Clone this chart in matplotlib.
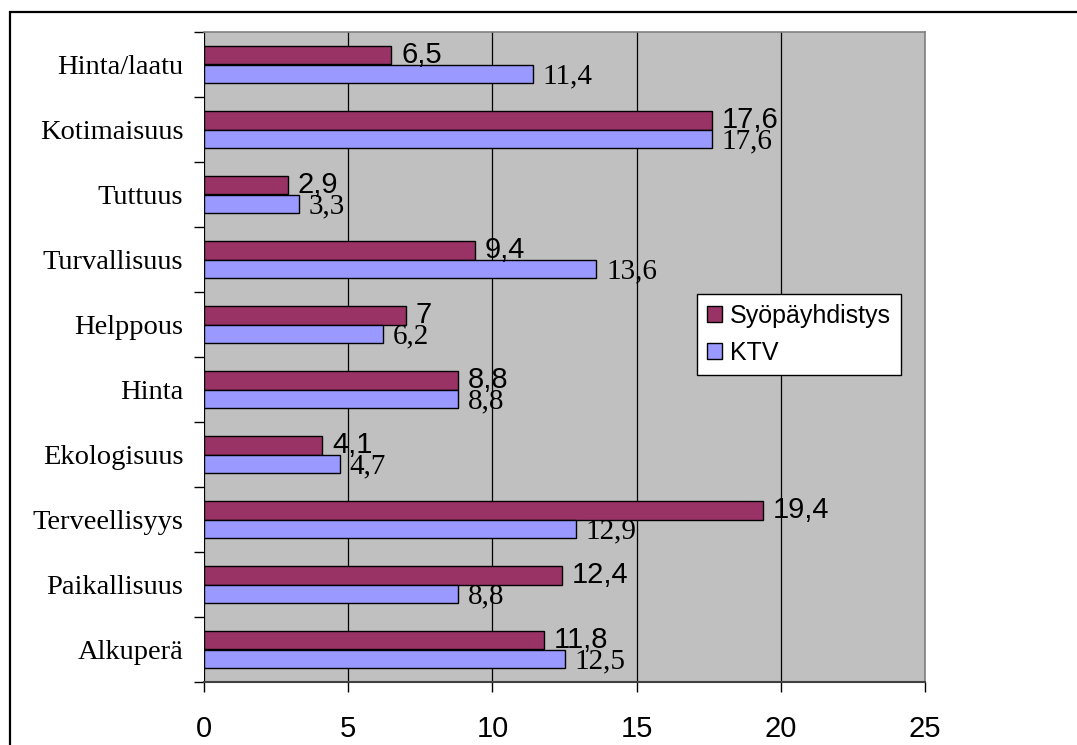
from matplotlib import pyplot as plt
from matplotlib.patches import Rectangle
import numpy as np

# survey answers, listed top to bottom
categories = ['Hinta/laatu', 'Kotimaisuus', 'Tuttuus', 'Turvallisuus', 'Helppous',
              'Hinta', 'Ekologisuus', 'Terveellisyys', 'Paikallisuus', 'Alkuperä']
syopa = [6.5, 17.6, 2.9, 9.4, 7, 8.8, 4.1, 19.4, 12.4, 11.8]
ktv = [11.4, 17.6, 3.3, 13.6, 6.2, 8.8, 4.7, 12.9, 8.8, 12.5]
series_names = ['Syöpäyhdistys', 'KTV']
xticks = [0, 5, 10, 15, 20, 25]

SERIF = 'Liberation Serif'
SANS = 'Liberation Sans'


def fmt(v):
    ''' Finnish style number: comma as decimal separator '''
    s = '{:g}'.format(v)
    return s.replace('.', ',')


fig = plt.figure(figsize=(10.77, 7.45), dpi=100)

# outer frame of the chart object
fig.patches.append(Rectangle((10 / 1077, -0.05), 1.1, 0.05 + (745 - 12) / 745,
                             transform=fig.transFigure, fill=False,
                             edgecolor='black', linewidth=1.6))

ax = fig.add_axes([204 / 1077, (745 - 682) / 745, (925 - 204) / 1077, (682 - 32) / 745])
ax.set_facecolor('#c0c0c0')

y = np.arange(len(categories))
h = 0.292
b1 = ax.barh(y - h / 2, syopa, height=h, color='#993366', edgecolor='black',
             linewidth=1.0, label=series_names[0], zorder=3)
b2 = ax.barh(y + h / 2, ktv, height=h, color='#9999ff', edgecolor='black',
             linewidth=1.0, label=series_names[1], zorder=3)

for rect, v in zip(b1, syopa):
    ax.annotate(fmt(v), (v, rect.get_y() + rect.get_height() / 2),
                xytext=(7, 0), textcoords='offset points', va='center', ha='left',
                fontsize=21, family=SANS, zorder=4)
for rect, v in zip(b2, ktv):
    ax.annotate(fmt(v), (v, rect.get_y() + rect.get_height() / 2),
                xytext=(7, -2), textcoords='offset points', va='center', ha='left',
                fontsize=21, family=SERIF, zorder=4)

ax.set_xlim(0, 25)
ax.set_ylim(len(categories) - 0.5, -0.5)
ax.set_xticks(xticks)
ax.set_xticklabels([str(t) for t in xticks], fontsize=21, family=SANS)
ax.set_yticks(np.arange(len(categories) + 1) - 0.5, minor=True)
ax.set_yticks(y)
ax.set_yticklabels(categories, fontsize=20.5, family=SERIF)
ax.tick_params(axis='y', which='major', length=0, pad=15)
ax.tick_params(axis='y', which='minor', length=7, width=1, color='black', direction='out')
ax.tick_params(axis='x', length=7, width=1, color='black', direction='out', pad=17)

ax.grid(axis='x', color='black', linewidth=0.9, zorder=1)
ax.set_axisbelow(True)

for side in ['top', 'right']:
    ax.spines[side].set_color('#808080')
    ax.spines[side].set_linewidth(1.2)
ax.spines['left'].set_visible(False)
ax.spines['bottom'].set_color('#404040')
ax.spines['bottom'].set_linewidth(1.5)

leg = fig.legend(handles=[b1, b2], labels=series_names,
                 loc='upper left', bbox_to_anchor=(697 / 1077, (745 - 294) / 745),
                 prop={'family': SANS, 'size': 18}, frameon=True, fancybox=False,
                 edgecolor='black', framealpha=1, borderpad=0.4, labelspacing=0.5,
                 handlelength=0.6, handleheight=0.6, handletextpad=0.3, borderaxespad=0)
leg.get_frame().set_linewidth(1.0)

plt.savefig('out.png', dpi=100)
